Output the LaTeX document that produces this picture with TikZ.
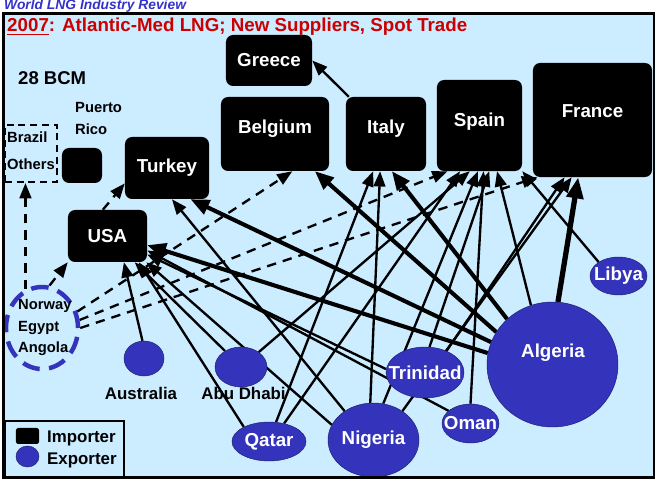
\documentclass[tikz,border=0pt]{standalone}
\usepackage{fontspec}
\setmainfont{Liberation Sans}
\usetikzlibrary{arrows.meta, positioning, calc, shapes.geometric}
\definecolor{seabg}{HTML}{CCECFF}
\definecolor{lngblue}{HTML}{3333BB}
\definecolor{titlered}{HTML}{CC0000}
\definecolor{reviewblue}{HTML}{3333CC}
\pgfdeclarelayer{bg}
\pgfdeclarelayer{flows}
\pgfsetlayers{bg,flows,main}
\newcommand{\lngname}[1]{\makebox[0pt]{#1}}

\begin{document}
\begin{tikzpicture}[
        x=0.03cm, y=-0.03cm,
        imp/.style={rectangle, fill=black, rounded corners=6pt, text=white, inner sep=0pt, font=\bfseries\fontsize{16pt}{19pt}\selectfont},
        expo/.style={ellipse, draw=lngblue!60!black, fill=lngblue, text=white, inner sep=0pt, font=\bfseries\fontsize{16pt}{19pt}\selectfont},
        lbl/.style={text=white, inner sep=0pt, font=\bfseries\fontsize{16pt}{19pt}\selectfont},
        small/.style={anchor=base west, inner sep=0pt, font=\bfseries\fontsize{12.6pt}{15pt}\selectfont},
        mid/.style={inner sep=0pt, font=\bfseries\fontsize{14.4pt}{17pt}\selectfont},
        flow/.style={line width=2pt, -{Triangle[length=13pt,width=10pt]}},
        bigflow/.style={line width=3.5pt, -{Triangle[length=16pt,width=13pt]}},
        hugeflow/.style={line width=4.5pt, -{Triangle[length=18pt,width=14pt]}},
        spot/.style={line width=2pt, dash pattern=on 8pt off 6pt, -{Triangle[length=13pt,width=10pt]}}
    ]
        \useasboundingbox (0,0) rectangle (658,481);

        % Background
        \begin{pgfonlayer}{bg}
            \fill[seabg] (3.5,13.5) rectangle (654,477.5);
        \end{pgfonlayer}

        % Titles
        \node[anchor=base west, inner sep=0pt, text=reviewblue, font=\bfseries\itshape\fontsize{11.8pt}{14pt}\selectfont] (review) at (4,10) {World LNG Industry Review};
        \node[anchor=base west, inner sep=0pt, text=titlered, font=\bfseries\fontsize{16pt}{19pt}\selectfont] (title) at (7,32) {\underline{2007}: Atlantic-Med LNG; New Suppliers, Spot Trade};
        \node[anchor=base west, inner sep=0pt, font=\bfseries\fontsize{15.8pt}{19pt}\selectfont] (bcm) at (18,85) {28 BCM};

        % Importers
        \node[imp, minimum width=2.58cm, minimum height=1.53cm] (greece) at (269,60.5) {Greece};
        \node[imp, minimum width=3.24cm, minimum height=2.22cm] (belgium) at (275,134) {};
        \node[lbl] (belgiumt) at (275,128.5) {Belgium};
        \node[imp, minimum width=2.4cm, minimum height=2.22cm] (italy) at (386,134) {};
        \node[lbl] (italyt) at (386,128.5) {Italy};
        \node[imp, minimum width=2.55cm, minimum height=2.73cm] (spain) at (479.5,125.5) {};
        \node[lbl] (spaint) at (479.5,122) {Spain};
        \node[imp, minimum width=3.57cm, minimum height=3.42cm] (france) at (592.5,120) {};
        \node[lbl] (francet) at (592.5,111.5) {France};
        \node[imp, minimum width=2.52cm, minimum height=1.86cm] (turkey) at (167,168) {Turkey};
        \node[imp, minimum width=2.37cm, minimum height=1.56cm] (usa) at (107.5,236) {USA};
        \node[imp, minimum width=1.2cm, minimum height=1.05cm] (prico) at (82,165.5) {};
        \node[small] (puerto) at (75,113) {Puerto};
        \node[small] (rico) at (75,135) {Rico};
        \node[rectangle, draw, line width=1.8pt, dash pattern=on 6pt off 4pt, minimum width=1.56cm, minimum height=1.71cm] (brazil) at (31,153.5) {};
        \node[small] (brazilt) at (7,143) {Brazil};
        \node[small] (otherst) at (7,170) {Others};

        % Exporters
        \node[ellipse, draw=lngblue, line width=3.8pt, dash pattern=on 15pt off 8pt, minimum width=2.16cm, minimum height=2.46cm] (nea) at (42,328) {};
        \node[small] (norway) at (18,310) {Norway};
        \node[small] (egypt) at (18,332) {Egypt};
        \node[small] (angola) at (18,353) {Angola};
        \node[expo, minimum width=1.2cm, minimum height=1.05cm] (australia) at (144,358.5) {};
        \node[mid, anchor=base] (australiat) at (141,400) {Australia};
        \node[expo, minimum width=1.56cm, minimum height=1.2cm] (abudhabi) at (241,367) {};
        \node[mid, anchor=base] (abudhabit) at (243.5,400) {Abu Dhabi};
        \node[expo, minimum width=2.22cm, minimum height=1.17cm] (qatar) at (269,441.5) {\lngname{Qatar}};
        \node[expo, minimum width=2.73cm, minimum height=2.22cm] (nigeria) at (373.5,440) {\lngname{Nigeria}};
        \node[expo, minimum width=2.34cm, minimum height=1.53cm] (trinidad) at (425,372.5) {\lngname{Trinidad}};
        \node[expo, minimum width=1.71cm, minimum height=1.17cm] (oman) at (470.5,423.5) {\lngname{Oman}};
        \node[expo, minimum width=3.93cm, minimum height=3.75cm] (algeria) at (552.5,364.5) {};
        \node[lbl] (algeriat) at (553,353) {Algeria};
        \node[expo, minimum width=1.71cm, minimum height=1.14cm] (libya) at (618.5,276) {\lngname{Libya}};

        % Flows
        \begin{pgfonlayer}{flows}
            % spot cargoes
            \draw[spot] (nea.113) -- (nea.113 |- brazil.south);
            \draw[spot] (nea.80) -- (usa.south west);
            \draw[spot] (usa.100) -- (turkey.-160);
            \draw[spot] (nea.25) -- (belgium.-65);
            \draw[spot] (nea.12) -- (spain.-125);
            \draw[spot] (nea.0) -- (france.-134);
            % to USA
            \draw[flow] (australia.95) -- (usa.-58);
            \draw[flow] (abudhabi.135) -- (usa.-44);
            \draw[flow] (qatar.150) -- (usa.-40);
            \draw[flow] (nigeria.160) -- (usa.-34);
            \draw[flow] (trinidad.175) -- (usa.-25);
            \draw[flow] (oman.150) -- (usa.-20);
            \draw[bigflow] (algeria.170) -- (usa.-13);
            % to Turkey, Belgium, Italy
            \draw[flow] (nigeria.135) -- (turkey.-81);
            \draw[bigflow] (algeria.160) -- (turkey.-53);
            \draw[bigflow] (algeria.150) -- (belgium.-43);
            \draw[flow] (qatar.70) -- (italy.-109);
            \draw[flow] (nigeria.95) -- (italy.-99);
            \draw[bigflow] (algeria.135) -- (italy.-81);
            \draw[flow] (italy.135) -- (greece.east);
            % to Spain
            \draw[flow] (qatar.50) -- (spain.-113);
            \draw[flow] (abudhabi.40) -- (spain.-102);
            \draw[flow] (nigeria.75) -- (spain.-92);
            \draw[flow] (oman.90) -- (spain.-85);
            \draw[flow] (trinidad.80) -- (spain.-78);
            \draw[flow] (algeria.110) -- (spain.-69);
            \draw[flow] (libya.145) -- (spain.south east);
            % to France
            \draw[flow] (nigeria.45) -- (france.-110);
            \draw[flow] (trinidad.45) -- (france.-116);
            \draw[hugeflow] (algeria.85) -- (france.-104);
        \end{pgfonlayer}

        % Legend
        \node[rectangle, draw, line width=1pt, minimum width=3.57cm, minimum height=1.68cm] (legend) at (64.5,449) {};
        \node[rectangle, fill=black, rounded corners=2pt, minimum width=0.69cm, minimum height=0.48cm] (legimp) at (27.5,436) {};
        \node[ellipse, fill=lngblue, draw=lngblue!60!black, minimum width=0.69cm, minimum height=0.63cm] (legexp) at (27.5,456.5) {};
        \node[mid, anchor=base west] (legimpt) at (47,443) {Importer};
        \node[mid, anchor=base west] (legexpt) at (47,465) {Exporter};

        % Frame
        \draw[line width=2.5pt] (3.5,13.5) rectangle (654,477.5);
    \end{tikzpicture}
\end{document}
